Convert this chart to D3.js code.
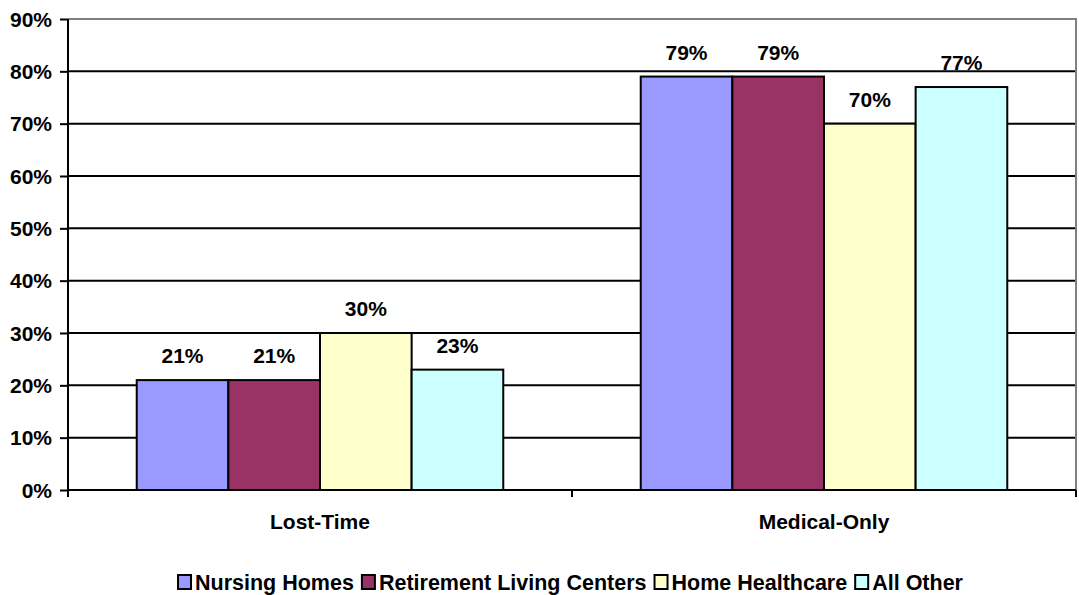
<!DOCTYPE html>
<html>
<head>
<meta charset="utf-8">
<script src="https://cdn.jsdelivr.net/npm/d3@7"></script>
<style>
  html, body { margin: 0; padding: 0; background: #fff; }
  svg { display: block; font-family: "Liberation Sans", Arial, sans-serif; font-weight: bold; }
</style>
</head>
<body>
<svg id="chart" width="1079" height="595"></svg>
<script>
// Claim type shares by facility type
const categories = ["Lost-Time", "Medical-Only"];
const seriesNames = ["Nursing Homes", "Retirement Living Centers", "Home Healthcare", "All Other"];
const nursingHomes = [21, 79];
const retirementLiving = [21, 79];
const homeHealthcare = [30, 70];
const allOther = [23, 77];
const yTicks = [0, 10, 20, 30, 40, 50, 60, 70, 80, 90];

const seriesValues = [nursingHomes, retirementLiving, homeHealthcare, allOther];
const colors = ["#9999ff", "#993366", "#ffffcc", "#ccffff"];
const FONT = 21;

const svg = d3.select("#chart");
const plot = { left: 68, right: 1076, top: 19, bottom: 490 };

const x0 = d3.scaleBand().domain(categories).range([plot.left, plot.right]).paddingInner(0).paddingOuter(0);
// gap width of 75% of a bar on each side of a group
const barW = x0.bandwidth() / (seriesNames.length + 1.5);
const x1 = d3.scaleBand().domain(seriesNames)
  .range([barW * 0.75, barW * 0.75 + barW * seriesNames.length]).padding(0);
const y = d3.scaleLinear().domain([0, 90]).range([plot.bottom, plot.top]);

// gridlines
svg.append("g").selectAll("line").data(yTicks.filter(t => t > 0 && t < 90)).join("line")
  .attr("x1", plot.left).attr("x2", plot.right)
  .attr("y1", d => y(d)).attr("y2", d => y(d))
  .attr("stroke", "#000").attr("stroke-width", 2);

// plot border (top and right)
svg.append("path")
  .attr("d", `M${plot.left},${plot.top}H${plot.right}V${plot.bottom}`)
  .attr("fill", "none").attr("stroke", "#808080").attr("stroke-width", 2);

// bars
const rows = (c, ci) => seriesNames.map((s, si) => ({ s, si, v: seriesValues[si][ci] }));
const groups = svg.append("g").selectAll("g").data(categories).join("g")
  .attr("transform", d => `translate(${x0(d)},0)`);
groups.selectAll("rect").data(rows).join("rect")
  .attr("x", d => x1(d.s)).attr("width", x1.bandwidth())
  .attr("y", d => y(d.v)).attr("height", d => y(0) - y(d.v))
  .attr("fill", d => colors[d.si]).attr("stroke", "#000").attr("stroke-width", 2);

// value labels
groups.selectAll("text").data(rows).join("text")
  .attr("x", d => x1(d.s) + x1.bandwidth() / 2)
  .attr("y", d => y(d.v) - 17)
  .attr("text-anchor", "middle").attr("font-size", FONT).attr("fill", "#000")
  .text(d => d.v + "%");

// y axis
const yAxis = d3.axisLeft(y).tickValues(yTicks).tickFormat(d => d + "%").tickSize(8).tickPadding(8);
const gy = svg.append("g").attr("transform", `translate(${plot.left},0)`).call(yAxis);
gy.select(".domain").attr("stroke", "#000").attr("stroke-width", 2).attr("d", `M0,${plot.top}V${plot.bottom + 6}`);
gy.selectAll(".tick line").attr("stroke", "#000").attr("stroke-width", 2);
gy.selectAll(".tick text").attr("font-size", FONT).attr("font-weight", "bold").attr("fill", "#000")
  .attr("font-family", "Liberation Sans, Arial, sans-serif").attr("dy", "0.34em");

// x axis
const xAxis = d3.axisBottom(x0).tickSize(0).tickPadding(0);
const gx = svg.append("g").attr("transform", `translate(0,${plot.bottom})`).call(xAxis);
gx.select(".domain").attr("stroke", "#000").attr("stroke-width", 2).attr("d", `M${plot.left},0H${plot.right}`);
gx.selectAll(".tick text").attr("font-size", FONT).attr("font-weight", "bold").attr("fill", "#000")
  .attr("font-family", "Liberation Sans, Arial, sans-serif").attr("y", 39).attr("dy", 0);
// category boundary ticks
const bounds = categories.map(c => x0(c)).concat([x0(categories[categories.length - 1]) + x0.bandwidth()]);
gx.append("g").selectAll("line").data(bounds).join("line")
  .attr("x1", d => d).attr("x2", d => d).attr("y1", 0).attr("y2", 7)
  .attr("stroke", "#000").attr("stroke-width", 2);

// legend
const legend = svg.append("g").attr("transform", "translate(0,590)");
const items = [];
seriesNames.forEach((name, i) => {
  const g = legend.append("g");
  g.append("rect").attr("x", 1).attr("y", -15).attr("width", 13).attr("height", 14)
    .attr("fill", colors[i]).attr("stroke", "#000").attr("stroke-width", 2);
  const t = g.append("text").attr("x", 18).attr("y", 0).attr("font-size", 21.5).attr("fill", "#000").text(name);
  items.push({ g, w: 18 + t.node().getComputedTextLength() });
});
const gap = 7;
const total = d3.sum(items, d => d.w) + gap * (items.length - 1);
let lx = 570 - total / 2;
items.forEach(it => { it.g.attr("transform", `translate(${lx},0)`); lx += it.w + gap; });
</script>
</body>
</html>
